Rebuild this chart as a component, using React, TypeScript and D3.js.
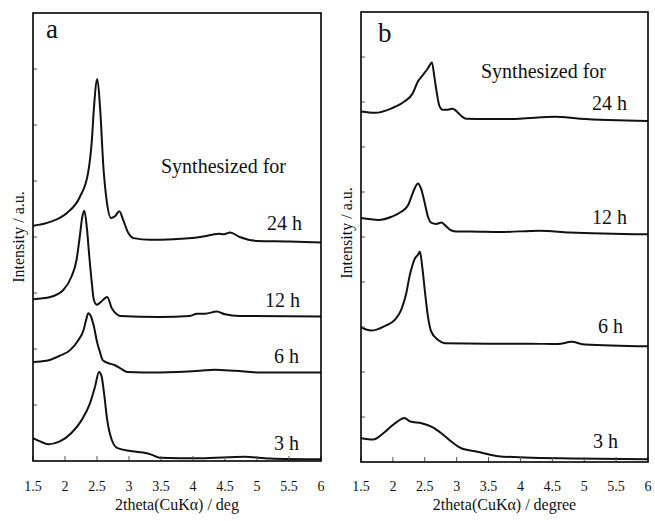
import React from "react";
import * as d3 from "d3";

// x-axis (2theta, degrees) tick values and labels
const xTicks = [1.5, 2, 2.5, 3, 3.5, 4, 4.5, 5, 5.5, 6];
const xTickLabels = ["1.5", "2", "2.5", "3", "3.5", "4", "4.5", "5", "5.5", "6"];

// Panel a — XRD patterns (2theta, intensity in tick units, offset stacked)
const a24: [number, number][] = [
  [1.5, 4.2], [1.77, 4.27], [2.03, 4.43], [2.23, 4.71], [2.36, 5.14], [2.42, 5.73], [2.45, 6.27],
  [2.505, 6.82], [2.55, 6.27], [2.6, 5.25], [2.65, 4.66], [2.72, 4.34], [2.78, 4.37], [2.85, 4.46],
  [2.91, 4.3], [2.99, 4.07], [3.07, 3.98], [3.33, 3.95], [3.69, 3.96], [4.11, 4.0], [4.3, 4.04],
  [4.4, 4.06], [4.48, 4.05], [4.58, 4.08], [4.73, 4.0], [5.0, 3.93], [5.5, 3.92], [6.0, 3.9],
];
const a12: [number, number][] = [
  [1.5, 2.89], [1.77, 2.93], [1.97, 3.05], [2.1, 3.29], [2.18, 3.59], [2.23, 4.0], [2.27, 4.36],
  [2.302, 4.47], [2.34, 4.18], [2.38, 3.65], [2.42, 3.17], [2.45, 2.88], [2.5, 2.79], [2.56, 2.84],
  [2.66, 2.93], [2.73, 2.73], [2.8, 2.63], [2.86, 2.59], [3.48, 2.57], [3.95, 2.59], [4.06, 2.63],
  [4.19, 2.63], [4.37, 2.67], [4.5, 2.62], [4.73, 2.59], [6.0, 2.58],
];
const a6: [number, number][] = [
  [1.5, 1.77], [1.71, 1.79], [1.92, 1.88], [2.08, 1.98], [2.21, 2.16], [2.29, 2.34], [2.33, 2.52],
  [2.364, 2.64], [2.41, 2.57], [2.45, 2.41], [2.5, 2.13], [2.55, 1.93], [2.59, 1.8], [2.67, 1.75],
  [2.78, 1.71], [2.86, 1.66], [2.97, 1.59], [3.48, 1.58], [4.11, 1.61], [4.34, 1.63], [4.66, 1.61],
  [5.05, 1.58], [6.0, 1.58],
];
const a3: [number, number][] = [
  [1.5, 0.41], [1.61, 0.35], [1.74, 0.3], [1.92, 0.35], [2.1, 0.5], [2.26, 0.73], [2.39, 1.03],
  [2.47, 1.33], [2.531, 1.59], [2.57, 1.52], [2.61, 1.21], [2.66, 0.73], [2.73, 0.38], [2.82, 0.23],
  [3.02, 0.18], [3.22, 0.15], [3.36, 0.11], [3.48, 0.06], [4.11, 0.05], [4.81, 0.075], [5.2, 0.045],
  [6.0, 0.03],
];

// Panel b — XRD patterns
const b24: [number, number][] = [
  [1.5, 7.79], [1.72, 7.76], [1.98, 7.86], [2.18, 8.01], [2.31, 8.19], [2.39, 8.45], [2.47, 8.6],
  [2.55, 8.75], [2.612, 8.88], [2.65, 8.56], [2.69, 8.19], [2.73, 7.91], [2.78, 7.83], [2.86, 7.83],
  [2.93, 7.85], [2.98, 7.82], [3.03, 7.75], [3.09, 7.67], [3.15, 7.63], [3.49, 7.62], [3.99, 7.63],
  [4.54, 7.67], [4.93, 7.63], [6.0, 7.58],
];
const b12: [number, number][] = [
  [1.5, 5.42], [1.77, 5.38], [1.98, 5.45], [2.13, 5.56], [2.24, 5.71], [2.31, 5.97], [2.393, 6.19],
  [2.44, 6.08], [2.5, 5.75], [2.55, 5.45], [2.6, 5.32], [2.68, 5.29], [2.76, 5.32], [2.84, 5.23],
  [2.91, 5.15], [3.0, 5.12], [3.21, 5.12], [3.68, 5.11], [4.3, 5.14], [4.77, 5.1], [6.0, 5.06],
];
const b6: [number, number][] = [
  [1.5, 2.99], [1.66, 2.92], [1.87, 3.02], [2.03, 3.16], [2.13, 3.38], [2.21, 3.75], [2.26, 4.12],
  [2.3, 4.34], [2.34, 4.51], [2.39, 4.6], [2.424, 4.67], [2.46, 4.34], [2.5, 3.82], [2.55, 3.23],
  [2.6, 2.9], [2.71, 2.71], [2.81, 2.64], [3.49, 2.63], [4.15, 2.63], [4.59, 2.62], [4.8, 2.67],
  [5.01, 2.61], [6.0, 2.57],
];
const b3: [number, number][] = [
  [1.5, 0.53], [1.69, 0.5], [1.85, 0.64], [1.98, 0.8], [2.08, 0.91], [2.18, 0.98], [2.27, 0.9],
  [2.45, 0.86], [2.61, 0.78], [2.76, 0.64], [2.92, 0.45], [3.08, 0.3], [3.29, 0.24], [3.44, 0.19],
  [3.65, 0.13], [4.07, 0.1], [4.85, 0.08], [6.0, 0.06],
];

const seriesA = [a24, a12, a6, a3];
const seriesB = [b24, b12, b6, b3];
const labelsA = ["24 h", "12 h", "6 h", "3 h"];
const labelsB = ["24 h", "12 h", "6 h", "3 h"];

const FONT = "Liberation Serif, Times New Roman, Times, serif";

type PanelProps = {
  left: number; right: number; top: number; bottom: number;
  yMax: number; series: [number, number][][];
  letter: string; letterPos: [number, number];
  xTitle: string; yLabelX: number; yLabelY: number;
  synthPos: [number, number];
  labels: string[]; labelPos: [number, number][];
};

function Panel(p: PanelProps) {
  const x = d3.scaleLinear().domain([1.5, 6]).range([p.left, p.right]);
  const y = d3.scaleLinear().domain([0, p.yMax]).range([p.bottom, p.top]);
  const line = d3.line<[number, number]>()
    .x((d) => x(d[0]))
    .y((d) => y(d[1]))
    .curve(d3.curveMonotoneX);
  const yTicks = d3.range(1, p.yMax);
  return (
    <g>
      {p.series.map((s, i) => (
        <path key={i} d={line(s) || ""} fill="none" stroke="#111" strokeWidth={2} strokeLinejoin="round" />
      ))}
      {yTicks.map((t) => (
        <line key={"yt" + t} x1={p.left} x2={p.left + 4} y1={y(t)} y2={y(t)} stroke="#555" strokeWidth={1} />
      ))}
      {xTicks.map((t) => (
        <line key={"xt" + t} x1={x(t)} x2={x(t)} y1={p.bottom} y2={p.bottom - 5} stroke="#555" strokeWidth={1} />
      ))}
      <rect x={p.left} y={p.top} width={p.right - p.left} height={p.bottom - p.top} fill="none" stroke="#000" strokeWidth={1.6} />
      {xTicks.map((t, i) => (
        <text key={"xl" + t} x={x(t)} y={490.5} textAnchor="middle" style={{ fontFamily: FONT }} fontSize={14} fill="#111">
          {xTickLabels[i]}
        </text>
      ))}
      <text x={(p.left + p.right) / 2} y={509.5} textAnchor="middle" style={{ fontFamily: FONT }} fontSize={16} fill="#111">
        {p.xTitle}
      </text>
      <text transform={`translate(${p.yLabelX},${p.yLabelY}) rotate(-90)`} textAnchor="middle" style={{ fontFamily: FONT }} fontSize={16} fill="#111">
        Intensity / a.u.
      </text>
      <text x={p.letterPos[0]} y={p.letterPos[1]} style={{ fontFamily: FONT }} fontSize={27} fill="#111">{p.letter}</text>
      <text x={p.synthPos[0]} y={p.synthPos[1]} style={{ fontFamily: FONT }} fontSize={20} fill="#111">Synthesized for</text>
      {p.labels.map((l, i) => (
        <text key={"lb" + i} x={p.labelPos[i][0]} y={p.labelPos[i][1]} textAnchor="end" style={{ fontFamily: FONT }} fontSize={20} fill="#111">
          {l}
        </text>
      ))}
    </g>
  );
}

export default function App() {
  return (
    <svg width={655} height={521} viewBox="0 0 655 521" style={{ position: "absolute", left: 0, top: 0, background: "#fff" }}>
      <rect x={0} y={0} width={655} height={521} fill="#fff" />
      <Panel
        left={33} right={321} top={13} bottom={461} yMax={8} series={seriesA}
        letter="a" letterPos={[46, 38]} xTitle="2theta(CuKα) / deg"
        yLabelX={24} yLabelY={237}
        synthPos={[161, 173]}
        labels={labelsA}
        labelPos={[[302, 230], [300, 307], [299, 363], [299, 450]]}
      />
      <Panel
        left={361} right={648} top={12} bottom={462} yMax={10} series={seriesB}
        letter="b" letterPos={[378, 42]} xTitle="2theta(CuKα) / degree"
        yLabelX={352} yLabelY={233}
        synthPos={[481, 78]}
        labels={labelsB}
        labelPos={[[627, 110], [627, 224], [623, 333], [618, 448]]}
      />
    </svg>
  );
}
